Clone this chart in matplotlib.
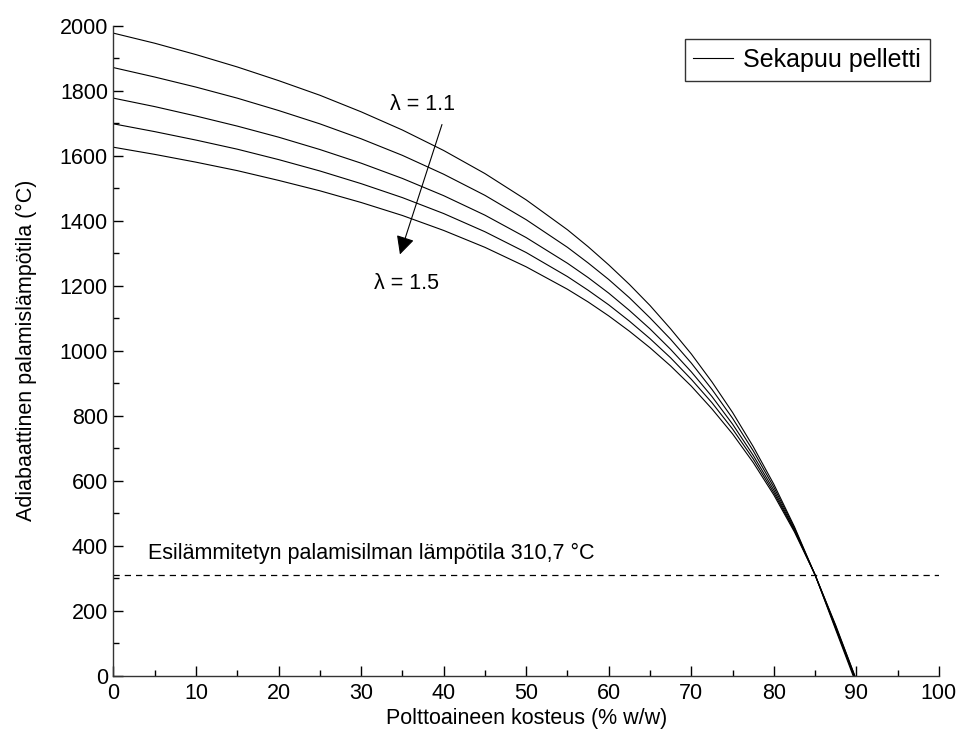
import matplotlib
matplotlib.use("Agg")
import matplotlib.pyplot as plt
from matplotlib.ticker import MultipleLocator

plt.rcParams['font.family'] = ['Liberation Sans', 'DejaVu Sans']

# Fuel moisture (% w/w)
moisture = [0, 5, 10, 15, 20, 25, 30, 35, 40, 45, 50, 55, 57.5, 60, 62.5, 65, 67.5,
            70, 72.5, 75, 77.5, 80, 82.5, 85, 87.5]

# Adiabatic combustion temperature (°C) for lambda = 1.1 ... 1.5
t_l11 = [1977, 1946, 1911, 1873, 1831, 1786, 1735, 1679, 1616, 1545, 1464, 1372, 1320, 1264, 1204, 1139, 1067,
         990, 904, 810, 705, 589, 458, 310, 141]
t_l12 = [1871, 1842, 1811, 1777, 1739, 1698, 1652, 1601, 1543, 1478, 1403, 1318, 1270, 1219, 1163, 1101, 1035,
         962, 881, 792, 692, 580, 454, 310, 145]
t_l13 = [1777, 1751, 1722, 1691, 1657, 1619, 1577, 1530, 1477, 1417, 1348, 1269, 1225, 1177, 1124, 1067, 1004,
         935, 859, 774, 678, 571, 449, 310, 149]
t_l14 = [1698, 1674, 1648, 1620, 1588, 1553, 1514, 1471, 1422, 1366, 1302, 1228, 1186, 1141, 1091, 1037, 978,
         912, 840, 759, 667, 563, 446, 310, 152]
t_l15 = [1626, 1604, 1580, 1554, 1524, 1492, 1456, 1416, 1370, 1318, 1258, 1189, 1150, 1107, 1060, 1009, 953,
         891, 821, 744, 656, 556, 442, 310, 155]
# moisture where each curve reaches 0 °C
end_moisture = [89.6, 89.7, 89.7, 89.8, 89.8]

series = [t_l11, t_l12, t_l13, t_l14, t_l15]
preheat_temp = 310.7

FS = 15.5

fig = plt.figure(figsize=(9.64, 7.40), dpi=100)
ax = fig.add_axes([0.1177, 0.0869, 0.8563, 0.8784])

for i, (t, xe) in enumerate(zip(series, end_moisture)):
    xs = moisture + [xe]
    ys = t + [0]
    ax.plot(xs, ys, color='black', lw=0.8,
            label='Sekapuu pelletti' if i == 0 else None)

ax.axhline(preheat_temp, color='black', lw=0.9, ls=(0, (5, 4)))
ax.text(4.2, 377, 'Esilämmitetyn palamisilman lämpötila 310,7 °C',
        fontsize=FS, ha='left', va='center')

ax.annotate('', xy=(34.6, 1288), xytext=(39.9, 1704),
            arrowprops=dict(arrowstyle='-|>', color='black', lw=0.8,
                            mutation_scale=28))
ax.text(37.4, 1756, 'λ = 1.1', fontsize=FS, ha='center', va='center')
ax.text(35.5, 1208, 'λ = 1.5', fontsize=FS, ha='center', va='center')

ax.set_xlim(0, 100)
ax.set_ylim(0, 2000)
ax.xaxis.set_major_locator(MultipleLocator(10))
ax.xaxis.set_minor_locator(MultipleLocator(5))
ax.yaxis.set_major_locator(MultipleLocator(200))
ax.yaxis.set_minor_locator(MultipleLocator(100))
ax.tick_params(which='both', direction='in', labelsize=FS, width=1.0)
ax.tick_params(which='major', length=7)
ax.tick_params(which='minor', length=4)
ax.tick_params(axis='x', pad=5)
ax.tick_params(axis='y', pad=4)
for s in ['top', 'right']:
    ax.spines[s].set_visible(False)
for s in ['left', 'bottom']:
    ax.spines[s].set_linewidth(1.0)
    ax.spines[s].set_color('#333333')

ax.set_xlabel('Polttoaineen kosteus (% w/w)', fontsize=FS, labelpad=3)
ax.set_ylabel('Adiabaattinen palamislämpötila (°C)', fontsize=FS, labelpad=16)

leg = ax.legend(loc='upper right', bbox_to_anchor=(0.989, 0.979), fontsize=18,
                frameon=True, fancybox=False, handlelength=1.6,
                borderpad=0.35, handletextpad=0.4, borderaxespad=0)
leg.get_frame().set_edgecolor('black')
leg.get_frame().set_linewidth(1.0)

fig.savefig('out.png', dpi=100)
